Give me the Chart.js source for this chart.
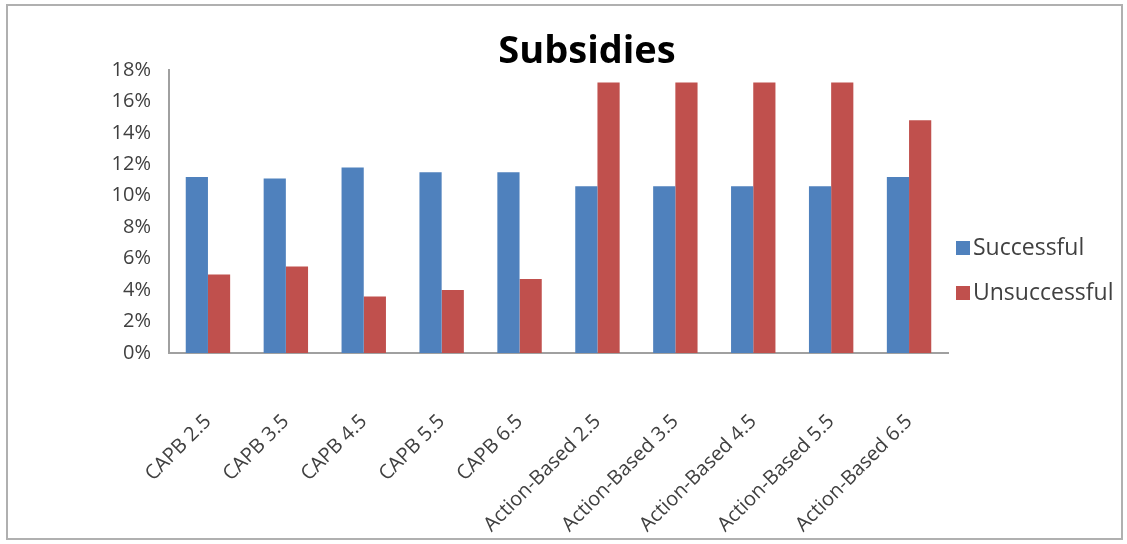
<!DOCTYPE html>
<html>
<head>
<meta charset="utf-8">
<script src="https://cdn.jsdelivr.net/npm/chart.js@4/dist/chart.umd.min.js"></script>
<style>
    html, body { margin: 0; padding: 0; background: #fff; }
    #wrap { position: relative; width: 1127px; height: 544px; }
    #frame { position: absolute; left: 6px; top: 4px; width: 1117px; height: 536px; border: 2px solid #b0b0b0; box-sizing: border-box; }
    #subsidyChart { position: absolute; left: 0; top: 0; }
</style>
</head>
<body>
<div id="wrap">
    <div id="frame"></div>
    <canvas id="subsidyChart" width="1127" height="544"></canvas>
</div>
<script>
// Chart data
const categories = ['CAPB 2.5', 'CAPB 3.5', 'CAPB 4.5', 'CAPB 5.5', 'CAPB 6.5',
    'Action-Based 2.5', 'Action-Based 3.5', 'Action-Based 4.5', 'Action-Based 5.5', 'Action-Based 6.5'];
const successful = [11.2, 11.1, 11.8, 11.5, 11.5, 10.6, 10.6, 10.6, 10.6, 11.2];
const unsuccessful = [5.0, 5.5, 3.6, 4.0, 4.7, 17.2, 17.2, 17.2, 17.2, 14.8];
const yTicks = [0, 2, 4, 6, 8, 10, 12, 14, 16, 18];

const FONT = '"Open Sans", "DejaVu Sans", sans-serif';
const TEXT = '#404040';

// Title + legend drawn by hand so they sit where the original has them
const extras = {
    id: 'extras',
    afterDraw(chart) {
        const c = chart.ctx;
        c.save();
        c.fillStyle = '#000';
        c.font = 'bold 38px ' + FONT;
        c.textAlign = 'center';
        c.textBaseline = 'alphabetic';
        c.fillText('Subsidies', 587, 63);

        c.font = '23px ' + FONT;
        c.textAlign = 'left';
        c.textBaseline = 'middle';
        chart.data.datasets.forEach((ds, i) => {
            const y = 248 + i * 45;
            c.fillStyle = ds.backgroundColor;
            c.fillRect(956, y - 7, 14, 14);
            c.fillStyle = TEXT;
            c.fillText(ds.label, 973, y);
        });
        c.restore();
    }
};

new Chart(document.getElementById('subsidyChart'), {
    type: 'bar',
    data: {
        labels: categories,
        datasets: [
            { label: 'Successful', data: successful, backgroundColor: '#4F81BD' },
            { label: 'Unsuccessful', data: unsuccessful, backgroundColor: '#C0504D' }
        ]
    },
    options: {
        responsive: false,
        animation: false,
        layout: { padding: { left: 0, right: 179, top: 70, bottom: 0 } },
        datasets: { bar: { categoryPercentage: 0.57, barPercentage: 1.0 } },
        plugins: {
            legend: { display: false },
            title: { display: false },
            tooltip: { enabled: false }
        },
        scales: {
            x: {
                grid: { display: false, drawTicks: false },
                border: { color: '#a0a0a0', width: 2 },
                ticks: { color: TEXT, font: { family: FONT, size: 20 }, minRotation: 45, maxRotation: 45, padding: 57 },
                afterFit: axis => { axis.height = 191; }
            },
            y: {
                min: 0,
                max: 18,
                grid: { display: false, drawTicks: false },
                border: { color: '#a0a0a0', width: 2 },
                afterBuildTicks: axis => { axis.ticks = yTicks.map(v => ({ value: v })); },
                ticks: { color: TEXT, font: { family: FONT, size: 20 }, padding: 18, callback: v => v + '%' },
                afterFit: axis => { axis.width = 169; }
            }
        }
    },
    plugins: [extras]
});
</script>
</body>
</html>
